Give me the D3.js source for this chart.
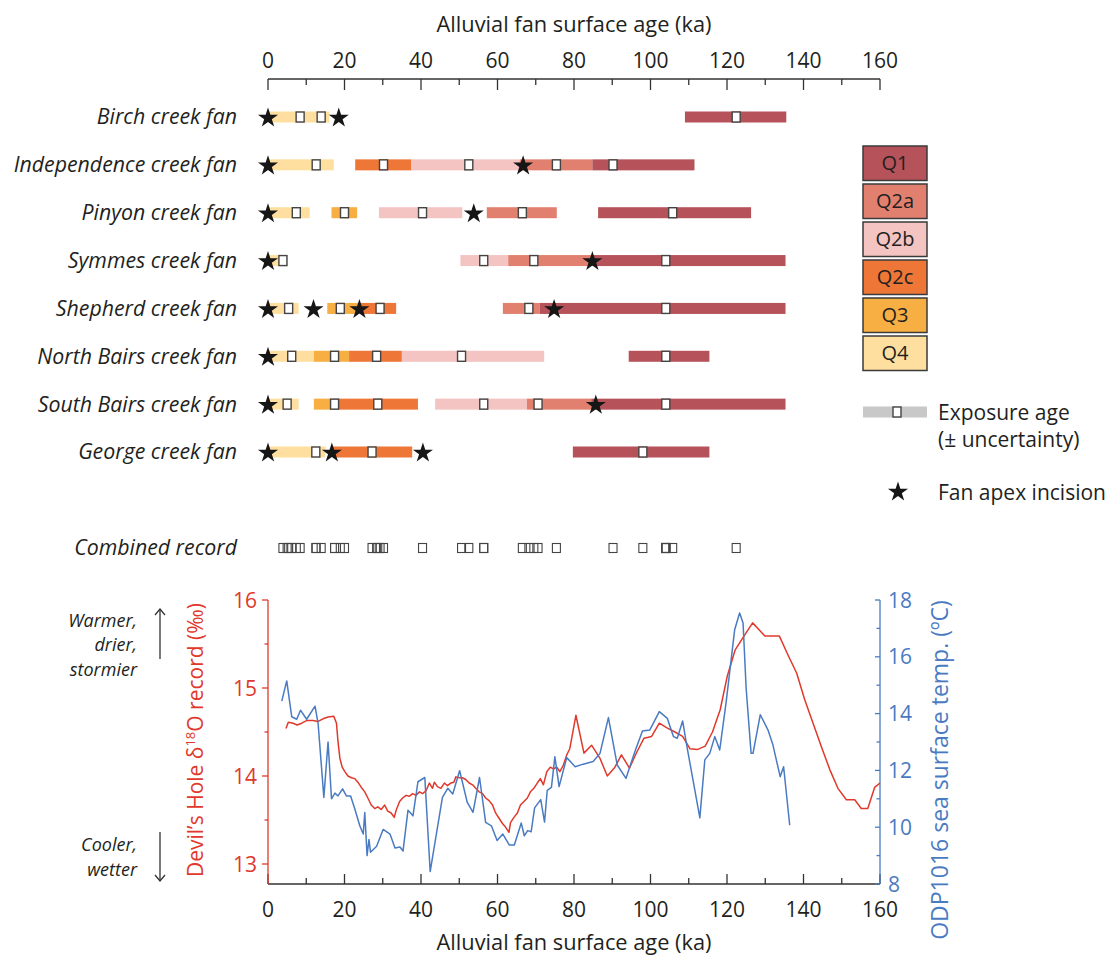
<!DOCTYPE html>
<html>
<head>
<meta charset="utf-8">
<script src="https://cdn.jsdelivr.net/npm/d3@7"></script>
<style>
  body { margin: 0; background: #fff; }
  svg { font-family: "Open Sans", "Noto Sans", sans-serif; }
</style>
</head>
<body>
<svg id="chart" width="1113" height="958"></svg>
<script>
// ---- fan surfaces -------------------------------------------------------
const fans = [
  "Birch creek fan", "Independence creek fan", "Pinyon creek fan", "Symmes creek fan",
  "Shepherd creek fan", "North Bairs creek fan", "South Bairs creek fan", "George creek fan"
];
const unitNames = ["Q1", "Q2a", "Q2b", "Q2c", "Q3", "Q4"];
const unitColors = ["#b5525a", "#e2806f", "#f3c4c2", "#ee7636", "#f7ae42", "#fedf9f"];
const ageTicks = [0, 20, 40, 60, 80, 100, 120, 140, 160];

// [fan, unit, young end (ka), old end (ka)]
const surfaces = [
  ["Birch creek fan", "Q4", 0, 16],
  ["Birch creek fan", "Q1", 109, 135.5],
  ["Independence creek fan", "Q4", 0, 17.2],
  ["Independence creek fan", "Q2c", 22.8, 37.5],
  ["Independence creek fan", "Q2b", 37.5, 65.8],
  ["Independence creek fan", "Q2a", 65.8, 84.8],
  ["Independence creek fan", "Q1", 84.8, 111.5],
  ["Pinyon creek fan", "Q4", 0, 10.9],
  ["Pinyon creek fan", "Q3", 16.6, 23.3],
  ["Pinyon creek fan", "Q2b", 29, 50.8],
  ["Pinyon creek fan", "Q2a", 57.2, 75.5],
  ["Pinyon creek fan", "Q1", 86.3, 126.3],
  ["Symmes creek fan", "Q4", 0, 5.2],
  ["Symmes creek fan", "Q2b", 50.3, 62.8],
  ["Symmes creek fan", "Q2a", 62.8, 84.5],
  ["Symmes creek fan", "Q1", 84.5, 135.3],
  ["Shepherd creek fan", "Q4", 0, 8],
  ["Shepherd creek fan", "Q3", 15.5, 24],
  ["Shepherd creek fan", "Q2c", 24, 33.5],
  ["Shepherd creek fan", "Q2a", 61.4, 71],
  ["Shepherd creek fan", "Q1", 71, 135.3],
  ["North Bairs creek fan", "Q4", 0, 12],
  ["North Bairs creek fan", "Q3", 12, 21.2],
  ["North Bairs creek fan", "Q2c", 21.2, 35],
  ["North Bairs creek fan", "Q2b", 35, 72.2],
  ["North Bairs creek fan", "Q1", 94.3, 115.4],
  ["South Bairs creek fan", "Q4", 0, 8],
  ["South Bairs creek fan", "Q3", 12, 17],
  ["South Bairs creek fan", "Q2c", 17, 39.2],
  ["South Bairs creek fan", "Q2b", 43.7, 67.7],
  ["South Bairs creek fan", "Q2a", 67.7, 84.5],
  ["South Bairs creek fan", "Q1", 84.5, 135.3],
  ["George creek fan", "Q4", 0, 15],
  ["George creek fan", "Q2c", 17, 37.7],
  ["George creek fan", "Q1", 79.7, 115.4]
];

// [fan, exposure age (ka)]
const exposureAges = [
  ["Birch creek fan", 8.4], ["Birch creek fan", 13.9], ["Birch creek fan", 122.4],
  ["Independence creek fan", 12.6], ["Independence creek fan", 30.2], ["Independence creek fan", 52.5],
  ["Independence creek fan", 75.4], ["Independence creek fan", 90.2],
  ["Pinyon creek fan", 7.4], ["Pinyon creek fan", 20], ["Pinyon creek fan", 40.4],
  ["Pinyon creek fan", 66.5], ["Pinyon creek fan", 105.8],
  ["Symmes creek fan", 3.9], ["Symmes creek fan", 56.4], ["Symmes creek fan", 69.5], ["Symmes creek fan", 104],
  ["Shepherd creek fan", 5.4], ["Shepherd creek fan", 18.9], ["Shepherd creek fan", 29.3],
  ["Shepherd creek fan", 68.2], ["Shepherd creek fan", 104],
  ["North Bairs creek fan", 6.2], ["North Bairs creek fan", 17.4], ["North Bairs creek fan", 28.4],
  ["North Bairs creek fan", 50.6], ["North Bairs creek fan", 104],
  ["South Bairs creek fan", 5], ["South Bairs creek fan", 17.4], ["South Bairs creek fan", 28.7],
  ["South Bairs creek fan", 56.4], ["South Bairs creek fan", 70.6], ["South Bairs creek fan", 104],
  ["George creek fan", 12.5], ["George creek fan", 27.2], ["George creek fan", 98]
];

// [fan, age of apex incision (ka)]
const incisions = [
  ["Birch creek fan", 0], ["Birch creek fan", 18.5],
  ["Independence creek fan", 0], ["Independence creek fan", 66.7],
  ["Pinyon creek fan", 0], ["Pinyon creek fan", 53.8],
  ["Symmes creek fan", 0], ["Symmes creek fan", 84.8],
  ["Shepherd creek fan", 0], ["Shepherd creek fan", 11.9], ["Shepherd creek fan", 23.9], ["Shepherd creek fan", 74.8],
  ["North Bairs creek fan", 0],
  ["South Bairs creek fan", 0], ["South Bairs creek fan", 85.7],
  ["George creek fan", 0], ["George creek fan", 16.7], ["George creek fan", 40.5]
];

// ---- climate records ----------------------------------------------------
// Devil's Hole calcite d18O (per mil)
const dhAge = [4.7, 5.3, 6.6, 7.6, 8.8, 10.1, 11.8, 13.1, 14.4, 15.7, 17.2, 17.9, 18.3, 18.8, 19.4, 20.1,
  20.9, 21.8, 22.7, 23.5, 24.4, 25.3, 26.1, 27.0, 27.9, 28.7, 29.6, 30.5, 31.3, 32.2, 33.0, 33.5, 34.4,
  35.2, 36.1, 37.0, 37.8, 38.7, 39.6, 40.4, 41.3, 42.2, 43.0, 43.5, 44.3, 45.2, 46.1, 46.9, 47.8, 48.6,
  49.1, 50.0, 50.8, 51.7, 52.6, 53.5, 54.3, 55.2, 56.1, 56.9, 57.8, 58.7, 59.5, 60.4, 61.3, 62.1, 63.0,
  63.4, 64.3, 65.2, 66.0, 66.9, 67.8, 68.6, 69.5, 70.4, 71.2, 72.0, 72.9, 73.8, 74.6, 75.5, 76.3, 77.2,
  78.1, 78.9, 80.5, 82.6, 84.6, 86.8, 88.7, 90.7, 92.4, 94.5, 96.4, 98.3, 100.3, 102.3, 104.2, 106.4,
  108.4, 110.3, 112.2, 114.3, 116.2, 118.2, 120.1, 122.1, 124.3, 126.7, 128.2, 129.9, 132.1, 133.7,
  136.0, 138.2, 140.3, 142.5, 144.7, 146.9, 149.0, 151.2, 153.4, 155.1, 156.8, 158.6, 160.0];
const dhD18O = [14.54, 14.61, 14.60, 14.58, 14.60, 14.63, 14.63, 14.62, 14.65, 14.67, 14.68, 14.60, 14.39,
  14.20, 14.10, 14.05, 14.00, 13.98, 13.97, 13.93, 13.87, 13.82, 13.75, 13.67, 13.63, 13.65, 13.62, 13.67,
  13.60, 13.58, 13.53, 13.61, 13.71, 13.75, 13.78, 13.77, 13.80, 13.78, 13.82, 13.80, 13.83, 13.92, 13.86,
  13.93, 13.88, 13.86, 13.92, 13.89, 13.92, 13.93, 13.99, 13.98, 13.98, 13.96, 13.92, 13.90, 13.86, 13.82,
  13.80, 13.75, 13.72, 13.67, 13.58, 13.52, 13.46, 13.42, 13.36, 13.47, 13.53, 13.58, 13.67, 13.71, 13.75,
  13.82, 13.86, 13.92, 13.97, 13.90, 14.05, 14.10, 14.08, 14.10, 14.05, 14.12, 14.24, 14.31, 14.69, 14.26,
  14.35, 14.20, 14.00, 14.10, 14.24, 14.09, 14.27, 14.43, 14.45, 14.60, 14.55, 14.50, 14.45, 14.31, 14.30,
  14.34, 14.50, 14.75, 15.14, 15.43, 15.58, 15.74, 15.67, 15.59, 15.59, 15.59, 15.37, 15.17, 14.87, 14.60,
  14.33, 14.07, 13.86, 13.73, 13.73, 13.63, 13.63, 13.87, 13.92];

// ODP site 1016 alkenone sea surface temperature (deg C)
const odpAge = [3.6, 4.9, 6.2, 7.5, 8.5, 10.1, 12.3, 13.1, 14.6, 15.7, 16.6, 17.5, 18.3, 19.5, 20.5, 21.6,
  22.7, 24.0, 24.9, 25.3, 25.9, 26.4, 26.8, 28.4, 30.1, 31.9, 33.2, 34.5, 35.3, 36.6, 37.9, 39.2, 41.0,
  42.4, 45.6, 47.0, 48.3, 50.1, 52.1, 53.6, 55.3, 56.9, 58.4, 59.9, 61.4, 63.1, 64.4, 66.2, 67.0, 67.9,
  68.8, 69.7, 71.3, 72.3, 73.0, 74.1, 75.0, 76.1, 78.1, 80.3, 82.4, 85.0, 86.8, 89.0, 91.3, 93.6, 95.9,
  97.9, 99.8, 102.3, 104.4, 106.0, 107.0, 108.4, 109.6, 111.2, 112.9, 114.2, 115.5, 116.8, 118.1, 119.8,
  122.0, 123.3, 124.2, 125.0, 126.3, 126.8, 128.7, 130.7, 132.0, 133.9, 134.8, 136.4];
const odpSST = [14.44, 15.15, 13.89, 13.80, 14.12, 13.80, 14.26, 13.65, 11.05, 13.00, 11.00, 11.20, 11.10,
  11.35, 11.10, 11.10, 10.64, 10.05, 9.76, 10.52, 9.00, 9.57, 9.12, 9.33, 9.92, 9.76, 9.27, 9.30, 9.16,
  10.60, 10.40, 11.60, 11.75, 8.44, 11.05, 11.37, 11.17, 11.99, 10.87, 10.52, 11.75, 10.17, 10.05, 9.53,
  9.76, 9.37, 9.37, 10.15, 9.70, 9.88, 9.84, 10.68, 10.97, 10.18, 11.30, 11.40, 12.48, 11.43, 12.45, 12.13,
  12.22, 12.31, 12.60, 13.86, 12.19, 11.72, 12.66, 13.39, 13.42, 14.07, 13.83, 13.19, 13.13, 13.74, 12.78,
  11.60, 10.33, 12.37, 12.60, 13.19, 12.72, 14.43, 16.95, 17.54, 17.19, 14.90, 12.60, 12.60, 13.96, 13.43,
  12.90, 11.78, 12.13, 10.07];
const d18OTicks = [13, 14, 15, 16];
const sstTicks = [8, 10, 12, 14, 16, 18];

// ---- drawing --------------------------------------------------------------
const svg = d3.select("#chart");
const ink = "#231f20";
const colorOf = d3.scaleOrdinal().domain(unitNames).range(unitColors);

const x = d3.scaleLinear().domain([0, 160]).range([268, 880]);
const row = d3.scalePoint().domain(fans).range([117, 452]);

const star = d3.symbol().type(d3.symbolStar).size(125);

// top age axis
const topAxisY = 79;
const gTop = svg.append("g").attr("transform", `translate(0,${topAxisY})`);
gTop.append("line").attr("x1", x(0)).attr("x2", x(160)).attr("stroke", "#333").attr("stroke-width", 1.3);
gTop.selectAll("line.tick").data(d3.range(0, 161, 10)).join("line")
  .attr("class", "tick")
  .attr("x1", d => x(d)).attr("x2", d => x(d))
  .attr("y1", 0).attr("y2", d => d % 20 === 0 ? 11 : 6)
  .attr("stroke", "#333").attr("stroke-width", 1.3);
gTop.selectAll("text").data(ageTicks).join("text")
  .attr("x", d => x(d)).attr("y", -11)
  .attr("text-anchor", "middle").attr("font-size", 21).attr("fill", ink)
  .text(d => d);
svg.append("text").attr("x", x(80)).attr("y", 32).attr("text-anchor", "middle")
  .attr("font-size", 21.8).attr("fill", ink).text("Alluvial fan surface age (ka)");

// fan names
svg.append("g").selectAll("text").data(fans).join("text")
  .attr("x", 237).attr("y", d => row(d)).attr("dy", "0.35em")
  .attr("text-anchor", "end").attr("font-style", "italic").attr("font-size", 21.3).attr("fill", ink)
  .text(d => d);

// surface age ranges
const barH = 11;
svg.append("g").selectAll("rect").data(surfaces).join("rect")
  .attr("x", d => x(d[2])).attr("width", d => x(d[3]) - x(d[2]))
  .attr("y", d => row(d[0]) - barH / 2).attr("height", barH)
  .attr("fill", d => colorOf(d[1]));

// exposure ages
const sqW = 8, sqH = 10;
svg.append("g").selectAll("rect").data(exposureAges).join("rect")
  .attr("x", d => x(d[1]) - sqW / 2).attr("y", d => row(d[0]) - sqH / 2)
  .attr("width", sqW).attr("height", sqH)
  .attr("fill", "#fff").attr("stroke", "#444").attr("stroke-width", 1.4);

// apex incisions
svg.append("g").selectAll("path").data(incisions).join("path")
  .attr("d", star)
  .attr("transform", d => `translate(${x(d[1])},${row(d[0]) + 1})`)
  .attr("fill", "#161616");

// combined record of all exposure ages
const combinedY = 548;
svg.append("text").attr("x", 237).attr("y", combinedY).attr("dy", "0.35em")
  .attr("text-anchor", "end").attr("font-style", "italic").attr("font-size", 21.3).attr("fill", ink)
  .text("Combined record");
svg.append("g").selectAll("rect").data(exposureAges).join("rect")
  .attr("x", d => x(d[1]) - 4).attr("y", combinedY - 4.5)
  .attr("width", 8).attr("height", 9)
  .attr("fill", "none").attr("stroke", "#444").attr("stroke-width", 1.1);

// legend: map units
const legX = 863, legW = 64, legH = 34.5, legTop = 146, legStep = 38;
const gLeg = svg.append("g");
gLeg.selectAll("rect").data(unitNames).join("rect")
  .attr("x", legX).attr("y", (d, i) => legTop + i * legStep)
  .attr("width", legW).attr("height", legH)
  .attr("fill", d => colorOf(d)).attr("stroke", "#3a3a3a").attr("stroke-width", 1.5);
gLeg.selectAll("text").data(unitNames).join("text")
  .attr("x", legX + legW / 2).attr("y", (d, i) => legTop + i * legStep + legH / 2)
  .attr("dy", "0.36em").attr("text-anchor", "middle").attr("font-size", 20).attr("fill", ink)
  .text(d => d);

// legend: exposure age and incision
const expY = 412;
gLeg.append("rect").attr("x", legX).attr("y", expY - barH / 2).attr("width", legW).attr("height", barH).attr("fill", "#c8c8c8");
gLeg.append("rect").attr("x", 897 - sqW / 2).attr("y", expY - sqH / 2).attr("width", sqW).attr("height", sqH)
  .attr("fill", "#fff").attr("stroke", "#444").attr("stroke-width", 1.4);
gLeg.append("text").attr("x", 938).attr("y", 420).attr("font-size", 21).attr("fill", ink).text("Exposure age");
gLeg.append("text").attr("x", 938).attr("y", 447).attr("font-size", 21).attr("fill", ink).text("(\u00b1 uncertainty)");
gLeg.append("path").attr("d", star).attr("transform", "translate(898,492)").attr("fill", "#161616");
gLeg.append("text").attr("x", 938).attr("y", 500).attr("font-size", 21).attr("fill", ink).text("Fan apex incision");

// ---- climate panel -----------------------------------------------------------
const red = "#e0392b", blue = "#4a7bc2";
const panelTop = 600, panelBottom = 884;
const yD = d3.scaleLinear().domain([13, 16]).range([864, panelTop]);
yD.domain([yD.invert(panelBottom), 16]).range([panelBottom, panelTop]);
const yT = d3.scaleLinear().domain([8, 18]).range([panelBottom, panelTop]);

// bottom age axis
const gBot = svg.append("g").attr("transform", `translate(0,${panelBottom})`);
gBot.append("line").attr("x1", x(0)).attr("x2", x(160)).attr("stroke", "#333").attr("stroke-width", 1.3);
gBot.selectAll("line.tick").data(d3.range(0, 161, 10)).join("line")
  .attr("class", "tick")
  .attr("x1", d => x(d)).attr("x2", d => x(d))
  .attr("y1", 0).attr("y2", d => d % 20 === 0 ? -10 : -6)
  .attr("stroke", "#333").attr("stroke-width", 1.3);
gBot.selectAll("text").data(ageTicks).join("text")
  .attr("x", d => x(d)).attr("y", 33)
  .attr("text-anchor", "middle").attr("font-size", 21).attr("fill", ink)
  .text(d => d);
svg.append("text").attr("x", x(80)).attr("y", 950).attr("text-anchor", "middle")
  .attr("font-size", 21.8).attr("fill", ink).text("Alluvial fan surface age (ka)");

// left axis (d18O)
const gL = svg.append("g").attr("transform", `translate(${x(0)},0)`);
gL.append("line").attr("y1", panelTop).attr("y2", panelBottom).attr("stroke", red).attr("stroke-width", 1.3);
gL.selectAll("line.tick").data([13, 13.5, 14, 14.5, 15, 15.5, 16]).join("line")
  .attr("class", "tick")
  .attr("x1", d => Number.isInteger(d) ? -6 : -3.5).attr("x2", 0)
  .attr("y1", d => yD(d)).attr("y2", d => yD(d))
  .attr("stroke", red).attr("stroke-width", 1.3);
gL.selectAll("text").data(d18OTicks).join("text")
  .attr("x", -11).attr("y", d => yD(d)).attr("dy", "0.36em")
  .attr("text-anchor", "end").attr("font-size", 21).attr("fill", red)
  .text(d => d);
svg.append("text")
  .attr("transform", "translate(203,740) rotate(-90)")
  .attr("text-anchor", "middle").attr("font-size", 21).attr("fill", red)
  .html("Devil\u2019s Hole \u03b4<tspan font-size='13' dy='-8'>18</tspan><tspan dy='8'>O record (\u2030)</tspan>");

// right axis (SST)
const gR = svg.append("g").attr("transform", `translate(${x(160)},0)`);
gR.append("line").attr("y1", panelTop).attr("y2", panelBottom).attr("stroke", blue).attr("stroke-width", 1.3);
gR.selectAll("line.tick").data(d3.range(8, 18.1, 1)).join("line")
  .attr("class", "tick")
  .attr("x1", d => d % 2 === 0 ? -5 : -3.5).attr("x2", 0)
  .attr("y1", d => yT(d)).attr("y2", d => yT(d))
  .attr("stroke", blue).attr("stroke-width", 1.3);
gR.selectAll("text").data(sstTicks).join("text")
  .attr("x", 8).attr("y", d => yT(d)).attr("dy", "0.36em")
  .attr("text-anchor", "start").attr("font-size", 21).attr("fill", blue)
  .text(d => d);
svg.append("text")
  .attr("transform", "translate(948,770) rotate(-90)")
  .attr("text-anchor", "middle").attr("font-size", 23).attr("fill", blue)
  .text("ODP1016 sea surface temp. (\u00baC)");

// climate interpretation notes
const notes = svg.append("g").attr("font-style", "italic").attr("font-size", 18).attr("fill", ink).attr("text-anchor", "end");
[["Warmer,", 627], ["drier,", 651], ["stormier", 676], ["Cooler,", 851], ["wetter", 876]].forEach(([t, yy]) =>
  notes.append("text").attr("x", 137).attr("y", yy).text(t));
const arrowG = svg.append("g").attr("stroke", "#333").attr("stroke-width", 1.3).attr("fill", "none");
arrowG.append("line").attr("x1", 160).attr("x2", 160).attr("y1", 609).attr("y2", 659);
arrowG.append("path").attr("d", "M155,615 L160,609 L165,615");
arrowG.append("line").attr("x1", 160).attr("x2", 160).attr("y1", 832).attr("y2", 881);
arrowG.append("path").attr("d", "M155,875 L160,881 L165,875");

// series lines
const dhLine = d3.line().x(i => x(dhAge[i])).y(i => yD(dhD18O[i]));
const odpLine = d3.line().x(i => x(odpAge[i])).y(i => yT(odpSST[i]));
svg.append("path").attr("d", dhLine(d3.range(dhAge.length)))
  .attr("fill", "none").attr("stroke", red).attr("stroke-width", 1.5).attr("stroke-linejoin", "round");
svg.append("path").attr("d", odpLine(d3.range(odpAge.length)))
  .attr("fill", "none").attr("stroke", blue).attr("stroke-width", 1.5).attr("stroke-linejoin", "round");
</script>
</body>
</html>
